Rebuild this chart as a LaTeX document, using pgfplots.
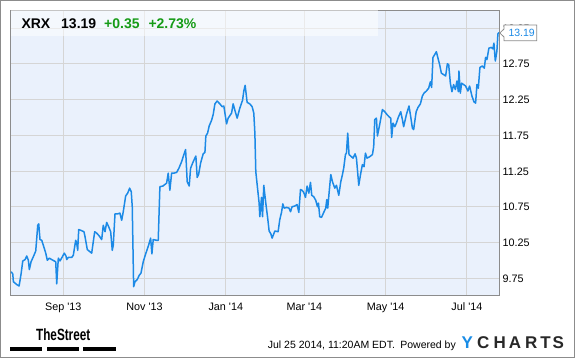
\documentclass[border=0pt]{standalone}
\usepackage{fontspec}
\setmainfont{Liberation Sans}
\usepackage{pgfplots}
\pgfplotsset{compat=1.18}
\definecolor{plotbg}{RGB}{234,241,252}
\definecolor{gridgray}{RGB}{213,213,213}
\definecolor{framegray}{RGB}{140,140,140}
\definecolor{lineblue}{RGB}{28,138,230}
\definecolor{upgreen}{RGB}{22,155,22}
\definecolor{logoblue}{RGB}{25,140,230}
\definecolor{logodark}{RGB}{40,40,40}
\pgfplotstableread{
d v
-39.2 9.84
-37.95 9.81
-37.5 9.70
-34.95 9.66
-33.2 9.64
-31.7 9.81
-30.45 9.99
-28.7 10.01
-27.45 10.06
-26.25 10.00
-25.5 9.87
-24.2 9.98
-22.5 10.05
-20.7 10.13
-19.2 10.49
-18.45 10.51
-17.5 10.29
-16.2 10.28
-15 10.21
-13.2 10.10
-12 10.00
-10.5 10.03
-8.7 10.01
-6.75 9.99
-5.7 9.98
-4.95 9.67
-3.75 10.03
-2.5 9.99
-1 10.04
0.75 10.10
2 10.06
2.55 10.01
3.75 10.04
6.3 10.04
7.5 10.07
9.3 10.28
10.05 10.24
10.8 10.14
11.55 10.43
13.05 10.42
15.5 10.40
16.3 10.33
18 10.15
20 10.12
21.3 10.10
23.55 10.40
25.05 10.38
27 10.34
28.8 10.29
30 10.49
31.3 10.40
32.55 10.53
34.05 10.47
35.55 10.40
36.75 10.14
37.5 10.21
38.8 10.65
40.8 10.65
42.5 10.66
43.8 10.56
45 10.68
46.8 10.90
48.3 10.94
49.8 11.01
51 10.96
51.75 10.75
52.8 9.63
53.8 9.70
55.5 9.73
57 9.79
58.3 9.82
60 9.98
62 10.10
64 10.21
65.55 10.31
66.5 10.09
67.5 10.29
70.05 10.28
71.25 10.28
72.5 11.03
74.8 11.04
77.55 11.08
78.75 11.22
80 10.98
81.3 11.22
83 11.22
85.05 11.23
86.8 11.29
88.8 11.38
90.5 11.48
91.8 11.55
93 11.10
94.5 11.04
95.55 11.29
97.5 11.38
99.5 11.46
100.5 11.16
101.55 11.20
103.05 11.36
105 11.49
106.3 11.51
107 11.74
108.3 11.78
109.5 11.88
111.3 11.96
112.5 12.04
113.8 12.19
115.5 12.23
117.5 12.19
119.25 12.15
120.5 12.16
122.55 11.91
123.75 11.99
126.3 12.06
127.5 12.19
128.8 12.10
130.5 11.99
132.5 12.13
134.55 12.24
135.5 12.37
136.5 12.45
138 12.21
140 12.19
141.75 12.15
143 12.06
143.8 11.78
144.5 11.24
145.8 11.01
147 10.80
147.5 10.61
148.8 10.88
149.55 10.61
150.5 11.05
152 10.80
153.3 10.61
154.5 10.41
155.8 10.37
156.75 10.31
158.8 10.41
161.25 10.40
162.5 10.57
163.8 10.67
164.8 10.79
165.75 10.73
167.55 10.74
169.5 10.73
170.55 10.68
171.75 10.75
173.8 10.76
175.5 10.78
176.8 10.67
178.05 10.99
179.25 10.98
180.5 10.95
181.8 10.88
183 11.04
184.3 10.94
185.55 11.09
186.5 10.91
188 10.89
189.5 10.84
190.8 10.75
191.55 10.80
192.5 10.61
193.8 10.60
195.5 10.67
197 10.73
197.8 10.85
198.5 10.73
199.5 10.94
200.8 11.20
202.05 11.10
203.8 11.01
205.05 11.05
206.8 10.91
208.3 11.10
209.55 11.20
210.5 11.29
211.8 11.48
212.55 11.50
213.5 11.78
214.5 11.48
216.3 11.45
217.5 11.43
219 11.49
220.05 11.43
221.8 11.05
223.3 11.22
224.55 11.34
225.75 11.31
226.8 11.50
228 11.43
230 11.45
232.05 11.48
233 11.59
233.8 11.97
235.05 11.99
235.8 11.74
237.5 11.90
239.55 12.11
241.3 12.08
243 12.04
244.5 12.01
245.8 11.99
246.5 11.72
247.5 11.92
248.8 11.87
250.05 11.92
251.25 11.99
253.3 12.08
254.55 11.97
255.5 11.87
257.55 12.04
259.5 12.16
260.8 12.01
262.05 11.85
263 11.83
263.8 11.94
264.9 12.08
266.25 12.14
268.05 12.19
269.55 12.30
270.75 12.34
272.55 12.37
274.3 12.41
275.55 12.50
276.5 12.42
277.5 12.84
278.8 12.88
280.05 12.92
281.25 12.83
282.5 12.74
283.8 12.62
285.5 12.60
287 12.58
288.3 12.75
289.3 12.74
290.55 12.48
291.75 12.36
293 12.46
294.3 12.39
295.5 12.51
296.55 12.36
297 12.65
298.05 12.34
299 12.48
300.5 12.46
302 12.44
303.75 12.37
305 12.44
306.75 12.30
308.25 12.22
309.5 12.20
310.5 12.46
311.55 12.41
312.75 12.70
314.55 12.72
316.05 12.69
317 12.84
318 12.81
319.5 12.97
321.3 12.98
322.5 12.96
323.25 13.04
324.3 12.79
325.5 12.93
326.25 13.17
327 13.19
}\xrx
\begin{document}
\begin{tikzpicture}[x=1pt,y=1pt]
\path[use as bounding box] (0,0) rectangle (575,358);
\fill[white] (0,0) rectangle (575,358);
\begin{axis}[
  at={(10.7pt,62pt)}, anchor=south west,
  width=488.6pt, height=285.7pt, scale only axis,
  xmin=-39.5, xmax=327.3, ymin=9.5, ymax=13.5,
  axis background/.style={fill=plotbg},
  axis line style={draw=framegray, line width=1pt},
  grid=major,
  major grid style={draw=gridgray, line width=1pt},
  major tick length=0pt,
  tick style={draw=none},
  xtick={0,61,122,181,242,303},
  xticklabels={Sep \textquotesingle 13, Nov \textquotesingle 13, Jan \textquotesingle 14, Mar \textquotesingle 14, May \textquotesingle 14, Jul \textquotesingle 14},
  ytick={9.75,10.25,10.75,11.25,11.75,12.25,12.75,13.25},
  yticklabels={9.75,10.25,10.75,11.25,11.75,12.25,12.75,13.25},
  yticklabel pos=right,
  xticklabel style={anchor=base, yshift=-14.7pt, font=\fontsize{10.8}{12}\selectfont},
  yticklabel style={anchor=base west, inner sep=0pt, xshift=3.2pt, yshift=-4pt, font=\fontsize{10.8}{12}\selectfont},
]
\fill[white, opacity=0.5] (axis cs:-39.5,13.14) rectangle (axis cs:236,13.5);
\addplot[lineblue, line width=1.5pt, line join=round, no marks] table[x=d, y=v] {\xrx};
\end{axis}
% outer frame
\draw[framegray, line width=1pt] (0.5,0.5) rectangle (574.5,357.5);
% header
\node[anchor=base west, inner sep=0pt, font=\fontsize{14}{16}\selectfont\bfseries] at (21.3,329.7) {XRX};
\node[anchor=base west, inner sep=0pt, font=\fontsize{14}{16}\selectfont\bfseries] at (61,329.7) {13.19};
\node[anchor=base west, inner sep=0pt, text=upgreen, font=\fontsize{14}{16}\selectfont\bfseries] at (104,329.7) {+0.35};
\node[anchor=base west, inner sep=0pt, text=upgreen, font=\fontsize{14}{16}\selectfont\bfseries] at (148.3,329.7) {+2.73\%};
% last value tag
\filldraw[fill=white, draw=framegray, line width=0.8pt] (536.7,333) -- (504,333) -- (504,329) -- (499.8,325) -- (504,321) -- (504,317.3) -- (536.7,317.3) -- cycle;
\node[anchor=base west, inner sep=0pt, text=lineblue, font=\fontsize{10.5}{12}\selectfont] at (508.3,321.3) {13.19};
% footer
\node[anchor=base west, inner sep=0pt, xscale=0.72, font=\fontsize{16.3}{18}\selectfont\bfseries] at (36,17) {TheStreet};
\fill[black] (10,7.3) rectangle (42.3,10.7);
\fill[black] (46.7,7.3) rectangle (79,10.7);
\fill[black] (83.3,7.3) rectangle (115.7,10.7);
\node[anchor=base west, inner sep=0pt, font=\fontsize{10.5}{12}\selectfont] at (267.7,9) {Jul 25 2014, 11:20AM EDT.};
\node[anchor=base east, inner sep=0pt, font=\fontsize{10.5}{12}\selectfont] at (456,9) {Powered by};
\node[anchor=base, inner sep=0pt, text=logoblue, font=\fontsize{17}{18}\selectfont\bfseries] at (467.2,9) {Y};
\node[anchor=base, inner sep=0pt, text=logodark, font=\fontsize{17}{18}\selectfont\bfseries] at (483.3,9) {C};
\node[anchor=base, inner sep=0pt, text=logodark, font=\fontsize{17}{18}\selectfont\bfseries] at (499.7,9) {H};
\node[anchor=base, inner sep=0pt, text=logodark, font=\fontsize{17}{18}\selectfont\bfseries] at (515,9) {A};
\node[anchor=base, inner sep=0pt, text=logodark, font=\fontsize{17}{18}\selectfont\bfseries] at (531.2,9) {R};
\node[anchor=base, inner sep=0pt, text=logodark, font=\fontsize{17}{18}\selectfont\bfseries] at (545.5,9) {T};
\node[anchor=base, inner sep=0pt, text=logodark, font=\fontsize{17}{18}\selectfont\bfseries] at (558.3,9) {S};
\end{tikzpicture}
\end{document}
